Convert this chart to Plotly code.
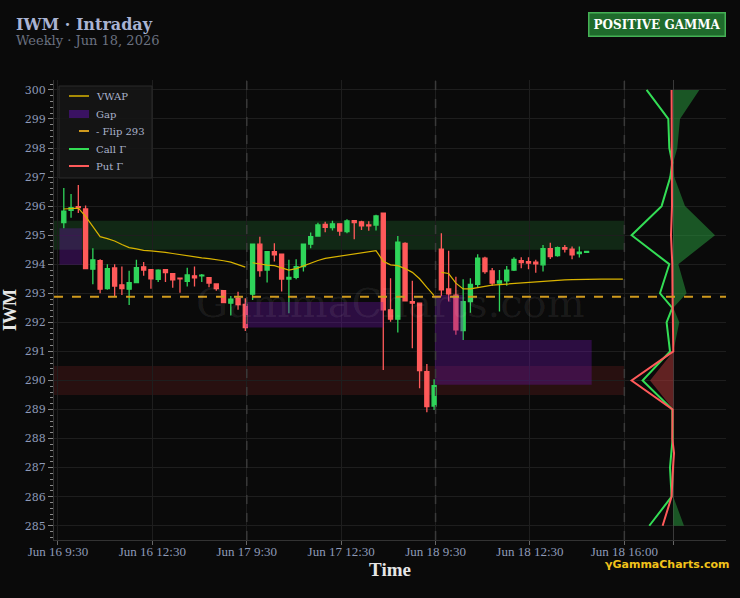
import plotly.graph_objects as go

# ---------------- data ----------------
tick_labels = ["Jun 16 9:30", "Jun 16 12:30", "Jun 17 9:30", "Jun 17 12:30",
               "Jun 18 9:30", "Jun 18 12:30", "Jun 18 16:00"]
bars_per_day = 26
day_counts = [26, 26, 21]

open_ = [
    295.43, 295.85, 295.98, 295.90, 293.83, 294.12, 293.16, 293.87, 293.29, 293.14,
    293.37, 293.91, 293.81, 293.48, 293.81, 293.68, 293.52, 293.41, 293.60, 293.60,
    293.54, 293.32, 293.09, 292.66, 292.82, 292.62,
    292.97, 294.69, 293.80, 294.43, 294.35, 293.49, 293.55, 293.92, 294.69, 294.97,
    295.37, 295.26, 295.39, 295.12, 295.50, 295.46, 295.35, 295.35, 295.76, 292.43,
    292.11, 294.72, 292.71, 292.66, 290.30, 289.12,
    294.52, 293.15, 292.94, 291.72, 292.71, 293.31, 294.21, 293.77, 293.35, 293.43,
    293.80, 294.12, 294.09, 294.07, 293.98, 294.54, 294.30, 294.57, 294.52, 294.37,
    294.41,
]
high = [
    296.62, 296.42, 296.73, 296.02, 294.55, 294.17, 294.00, 294.00, 293.92, 293.78,
    294.15, 294.08, 293.81, 293.83, 293.81, 293.68, 293.53, 293.88, 293.92, 293.66,
    293.54, 293.32, 293.09, 292.91, 293.05, 292.83,
    294.69, 294.95, 294.43, 294.72, 294.35, 294.15, 294.17, 294.69, 295.09, 295.43,
    295.46, 295.50, 295.39, 295.55, 295.52, 295.50, 295.48, 295.70, 295.76, 293.52,
    294.97, 294.76, 293.43, 292.66, 290.57, 290.04,
    295.07, 294.46, 293.57, 293.48, 293.52, 294.34, 294.26, 293.87, 293.80, 293.94,
    294.24, 294.24, 294.24, 294.15, 294.66, 294.74, 294.61, 294.66, 294.61, 294.61,
    294.46,
]
low = [
    295.24, 295.60, 295.76, 293.85, 293.31, 293.00, 293.12, 292.89, 292.94, 292.60,
    293.37, 293.60, 293.16, 293.39, 293.39, 293.19, 293.02, 293.23, 293.23, 293.39,
    293.21, 293.09, 292.68, 292.24, 292.43, 291.70,
    292.77, 293.57, 293.37, 294.09, 293.06, 292.31, 293.48, 293.75, 294.55, 294.95,
    295.10, 295.16, 294.98, 295.07, 294.86, 295.18, 295.15, 295.16, 290.36, 292.02,
    291.65, 292.74, 291.11, 289.73, 288.91, 288.98,
    292.90, 292.72, 291.57, 291.39, 292.33, 293.19, 293.67, 293.25, 292.37, 293.26,
    293.77, 293.86, 293.83, 293.71, 293.75, 294.18, 294.26, 294.40, 294.17, 294.23,
    294.39,
]
close = [
    295.83, 295.95, 295.95, 293.85, 294.15, 293.14, 293.85, 293.25, 293.16, 293.37,
    293.88, 293.80, 293.50, 293.80, 293.71, 293.46, 293.50, 293.63, 293.53, 293.62,
    293.35, 293.16, 292.68, 292.80, 292.61, 291.82,
    294.69, 293.78, 294.43, 294.32, 293.49, 293.55, 293.92, 294.69, 294.95, 295.35,
    295.27, 295.39, 295.14, 295.49, 295.43, 295.32, 295.32, 295.66, 292.43, 292.11,
    294.76, 292.74, 292.66, 290.34, 289.10, 289.82,
    293.12, 292.98, 291.74, 292.71, 293.31, 294.21, 293.75, 293.35, 293.43, 293.80,
    294.17, 294.06, 294.04, 294.01, 294.54, 294.26, 294.57, 294.52, 294.32, 294.42,
    294.44,
]

vwap_day1 = [295.90, 295.92, 295.93, 295.65, 295.30, 294.95, 294.88, 294.80, 294.68, 294.57,
             294.53, 294.48, 294.46, 294.44, 294.41, 294.37, 294.33, 294.28, 294.25, 294.22,
             294.19, 294.16, 294.12, 294.07, 293.99, 293.90]
vwap_day2 = [294.05, 294.00, 293.97, 293.95, 293.88, 293.80, 293.85, 293.95, 294.05, 294.13,
             294.20, 294.24, 294.27, 294.30, 294.35, 294.40, 294.43, 294.47, 294.10, 293.98,
             293.95, 293.85, 293.72, 293.50, 293.20, 292.92]
vwap_day3 = [293.72, 293.68, 293.35, 293.15, 293.15, 293.20, 293.25, 293.28, 293.30, 293.32,
             293.34, 293.36, 293.37, 293.38, 293.40, 293.42, 293.44, 293.46, 293.47, 293.48,
             293.49, 293.49, 293.49, 293.49, 293.49, 293.49]

# gap zones: start/end (bar slot), low/high price
gap_start = [0.2, 25.8, 51.9, 51.9]
gap_end = [3.3, 44.8, 55.8, 73.5]
gap_low = [293.98, 291.82, 289.85, 289.85]
gap_high = [295.24, 292.70, 292.94, 291.39]

flip_level = 292.88
call_wall = (294.5, 295.5)
put_wall = (289.5, 290.5)

# gamma profile by strike
call_strikes = [300, 299, 298, 297.5, 297, 296, 295, 294, 293, 292.5, 292, 291, 290, 289, 288, 287, 286, 285]
call_gamma = [26.7, 5.0, 4.0, 1.0, 3.0, 11.7, 41.7, 4.0, 13.3, 1.0, 6.7, 3.3, 30.7, 1.0, 0.7, 3.3, 1.7, 24.0]
put_strikes = [300, 299, 298, 297, 296, 295, 294, 293, 292, 291, 290, 289, 288, 287.5, 287, 286, 285]
put_gamma = [1.7, 1.5, 1.3, 1.2, 1.3, 2.3, 1.0, 0.8, 0.7, 0.0, 41.7, 0.7, 1.0, -0.7, 0.3, 1.7, 10.7]
net_strikes = [300, 299, 298, 297.5, 297, 296, 295, 294, 293, 292.5, 292, 291, 290, 289, 288, 287, 286, 285]
net_gamma = [26.0, 6.7, 4.0, 0.0, 1.0, 11.7, 41.7, 5.0, 13.3, 0.0, 6.0, 0.0, -23.3, 0.0, 0.0, 1.0, 0.0, 10.7]

legend_names = ["VWAP", "Gap", "- Flip 293", "Call Γ", "Put Γ"]

# ---------------- build ----------------
GREEN = "#2fd45a"
RED = "#ff5a5a"
BG = "#0a0a0a"
TICKC = "#8e9ab8"
VWAPC = "#d9b300"
FLIPC = "#d09a1e"
CALLC = "#33dd55"
PUTC = "#ff5a5a"
GAPC = "rgba(110,20,170,0.35)"

# plot-area geometry (px) for paper conversions
L, T, W, H = 54, 80, 672, 460
def px(x):
    return (x - L) / W
def py(y):
    return 1 - (y - T) / H

xs = []
for d, n in enumerate(day_counts):
    xs += [d * bars_per_day + k + 0.8 for k in range(n)]

tickvals = [0, 13, 26, 39, 52, 65, 78]

fig = go.Figure()

# gap boxes
gx, gy = [], []
for x0, x1, lo, hi in zip(gap_start, gap_end, gap_low, gap_high):
    gx += [x0, x1, x1, x0, x0, None]
    gy += [lo, lo, hi, hi, lo, None]

# VWAP
vx, vy = [], []
for d, vals in enumerate([vwap_day1, vwap_day2, vwap_day3]):
    vx += [d * bars_per_day + k + 0.8 for k in range(len(vals))] + [None]
    vy += vals + [None]

fig.add_trace(go.Scatter(x=vx, y=vy, mode="lines", name=legend_names[0],
                         line=dict(color=VWAPC, width=1.2), connectgaps=False))
fig.add_trace(go.Scatter(x=gx, y=gy, mode="lines", name=legend_names[1], fill="toself",
                         fillcolor=GAPC, line=dict(width=0)))

fig.add_trace(go.Candlestick(
    x=xs, open=open_, high=high, low=low, close=close,
    increasing=dict(line=dict(color=GREEN, width=1.3), fillcolor=GREEN),
    decreasing=dict(line=dict(color=RED, width=1.3), fillcolor=RED),
    whiskerwidth=0))

# gamma panel (on overlaid axis)
net_pos = [max(v, 0) for v in net_gamma]
net_neg = [min(v, 0) for v in net_gamma]
fig.add_trace(go.Scatter(x=net_pos, y=net_strikes, xaxis="x2", mode="lines",
                         line=dict(width=0), fill="tozerox",
                         fillcolor="rgba(40,150,60,0.55)"))
fig.add_trace(go.Scatter(x=net_neg, y=net_strikes, xaxis="x2", mode="lines",
                         line=dict(width=0), fill="tozerox",
                         fillcolor="rgba(170,55,55,0.55)"))
fig.add_trace(go.Scatter(x=[-v for v in call_gamma], y=call_strikes, xaxis="x2",
                         mode="lines", name=legend_names[3], line=dict(color=CALLC, width=2)))
fig.add_trace(go.Scatter(x=[-v for v in put_gamma], y=put_strikes, xaxis="x2",
                         mode="lines", name=legend_names[4], line=dict(color=PUTC, width=2)))

shapes = []
# walls
shapes.append(dict(type="rect", xref="x", yref="y", x0=-0.55, x1=78,
                   y0=call_wall[0], y1=call_wall[1], fillcolor="rgba(46,160,67,0.2)",
                   line=dict(width=0), layer="below"))
shapes.append(dict(type="rect", xref="x", yref="y", x0=-0.55, x1=78,
                   y0=put_wall[0], y1=put_wall[1], fillcolor="rgba(180,45,45,0.18)",
                   line=dict(width=0), layer="below"))
# day separators
for v in [26, 52, 78]:
    shapes.append(dict(type="line", xref="x", yref="paper", x0=v, x1=v, y0=0, y1=1,
                       line=dict(color="#3a3a3a", width=1.5, dash="dash")))
# flip line
shapes.append(dict(type="line", xref="paper", yref="y", x0=0, x1=1,
                   y0=flip_level, y1=flip_level,
                   line=dict(color=FLIPC, width=2, dash="dash")))

# compact legend box (drawn in paper space)
shapes.append(dict(type="rect", xref="paper", yref="paper", x0=px(59), x1=px(152),
                   y0=py(178), y1=py(86), fillcolor="rgba(22,22,22,0.92)",
                   line=dict(color="#2a2a2a", width=1)))
leg_y = [96, 114, 131, 149, 166]
shapes.append(dict(type="line", xref="paper", yref="paper", x0=px(69), x1=px(89),
                   y0=py(leg_y[0]), y1=py(leg_y[0]), line=dict(color=VWAPC, width=1.5)))
shapes.append(dict(type="rect", xref="paper", yref="paper", x0=px(69), x1=px(89),
                   y0=py(leg_y[1] + 4), y1=py(leg_y[1] - 4), fillcolor="#3a1262",
                   line=dict(width=0)))
shapes.append(dict(type="line", xref="paper", yref="paper", x0=px(79), x1=px(89),
                   y0=py(leg_y[2]), y1=py(leg_y[2]), line=dict(color=FLIPC, width=2)))
shapes.append(dict(type="line", xref="paper", yref="paper", x0=px(69), x1=px(89),
                   y0=py(leg_y[3]), y1=py(leg_y[3]), line=dict(color=CALLC, width=2)))
shapes.append(dict(type="line", xref="paper", yref="paper", x0=px(69), x1=px(89),
                   y0=py(leg_y[4]), y1=py(leg_y[4]), line=dict(color=PUTC, width=2)))

annotations = [
    dict(text="<b>IWM · Intraday</b>", xref="paper", yref="paper", x=px(14), y=py(24),
         xanchor="left", yanchor="middle", showarrow=False,
         font=dict(family="DejaVu Serif", size=16, color="#a9b3d3")),
    dict(text="Weekly · Jun 18, 2026", xref="paper", yref="paper", x=px(14), y=py(41),
         xanchor="left", yanchor="middle", showarrow=False,
         font=dict(family="DejaVu Serif", size=13, color="#6b7180")),
    dict(text="<b>POSITIVE GAMMA</b>", xref="paper", yref="paper", x=px(657), y=py(25),
         xanchor="center", yanchor="middle", showarrow=False,
         font=dict(family="DejaVu Serif", size=12, color="#ffffff"),
         bgcolor="#1f6b2c", bordercolor="#45b155", borderwidth=1.5, borderpad=4),
    dict(text="GammaCharts.com", xref="paper", yref="paper", x=0.5, y=0.515,
         xanchor="center", yanchor="middle", showarrow=False,
         font=dict(family="DejaVu Serif", size=40, color="rgba(255,255,255,0.07)")),
    dict(text="<b>γGammaCharts.com</b>", xref="paper", yref="paper", x=px(732), y=py(564),
         xanchor="right", yanchor="middle", showarrow=False,
         font=dict(family="DejaVu Sans", size=11, color="#f2c21b")),
]
for name, yy in zip(legend_names, leg_y):
    annotations.append(dict(text=name, xref="paper", yref="paper", x=px(94), y=py(yy),
                            xanchor="left", yanchor="middle", showarrow=False,
                            font=dict(family="DejaVu Serif", size=10, color="#aab3cc")))

fig.update_layout(
    width=740, height=598,
    margin=dict(l=L, r=740 - L - W, t=T, b=598 - T - H),
    paper_bgcolor=BG, plot_bgcolor=BG,
    showlegend=False,
    boxgap=0.2,
    xaxis=dict(range=[-0.55, 92.0], tickvals=tickvals, ticktext=tick_labels,
               automargin=False,
               showgrid=True, gridcolor="#1e1e1e", gridwidth=1, zeroline=False,
               ticks="outside", ticklen=4, tickcolor="#666", showline=True,
               linecolor="#333", linewidth=1, ticklabelstandoff=-5,
               tickfont=dict(family="Liberation Serif", size=13, color=TICKC),
               title=dict(text="<b>Time</b>", standoff=0,
                          font=dict(family="Liberation Serif", size=19, color="#e6e6e6")),
               rangeslider=dict(visible=False)),
    xaxis2=dict(overlaying="x", anchor="y", side="bottom", range=[-619.3, 52.7],
                automargin=False,
                tickvals=[0], showticklabels=False, showgrid=True, gridcolor="#3a3a3a",
                zeroline=False, ticks="outside", ticklen=4, tickcolor="#666",
                showline=False),
    yaxis=dict(range=[284.51, 300.34], dtick=1, showgrid=True, gridcolor="#1e1e1e",
               automargin=False,
               zeroline=False, ticks="outside", ticklen=5, tickcolor="#888",
               showline=True, linecolor="#333",
               minor=dict(dtick=0.2, ticks="outside", ticklen=3, tickcolor="#888", showgrid=False),
               tickfont=dict(family="DejaVu Serif", size=11, color=TICKC),
               title=dict(text="<b>IWM</b>", standoff=6,
                          font=dict(family="Liberation Serif", size=18, color="#e6e6e6"))),
    shapes=shapes,
    annotations=annotations,
)

fig.write_html("out.html")
